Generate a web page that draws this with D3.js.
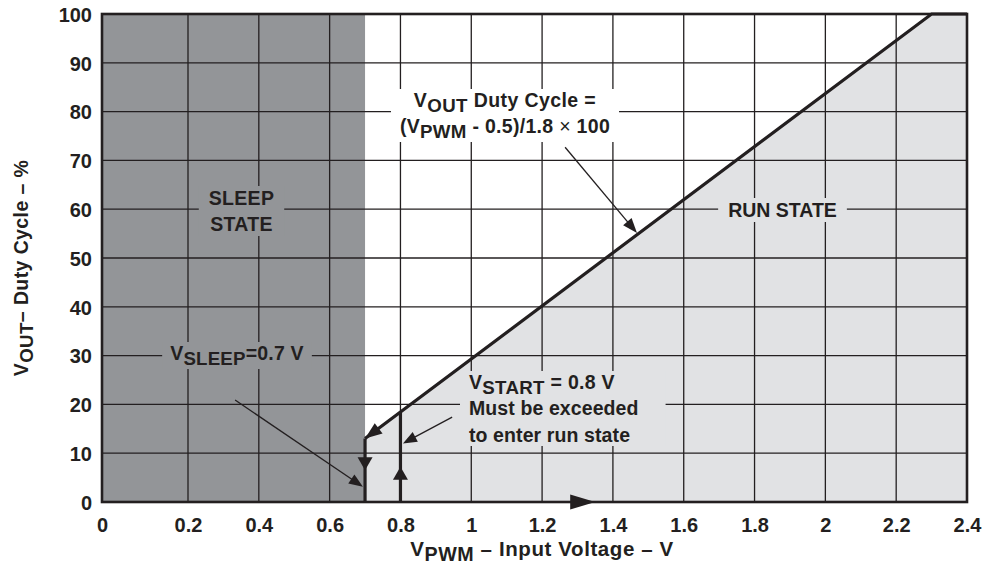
<!DOCTYPE html>
<html><head><meta charset="utf-8">
<script src="https://cdn.jsdelivr.net/npm/d3@7/dist/d3.min.js"></script>
<style>
body{margin:0;background:#fff}
svg{display:block;font-family:"Liberation Sans",Arial,Helvetica,sans-serif;font-weight:bold}
</style>
</head><body>
<svg id="c" width="984" height="566"></svg>
<script>
// ---------- data ----------
const xTicks = [0, 0.2, 0.4, 0.6, 0.8, 1, 1.2, 1.4, 1.6, 1.8, 2, 2.2, 2.4];
const xTickLabels = ["0", "0.2", "0.4", "0.6", "0.8", "1", "1.2", "1.4", "1.6", "1.8", "2", "2.2", "2.4"];
const yTicks = [0, 10, 20, 30, 40, 50, 60, 70, 80, 90, 100];
const yTickLabels = ["0", "10", "20", "30", "40", "50", "60", "70", "80", "90", "100"];
const vSleep = 0.7;
const vStart = 0.8;
const dutyCycle = [[0.7, 13], [2.3, 100], [2.4, 100]];   // [V_PWM, duty %]
const sleepDrop = [[0.7, 13], [0.7, 0]];
const startRise = [[0.8, 0], [0.8, 18.5]];

// ---------- setup ----------
const INK = "#231f20", DARK = "#939598", LIGHT = "#e1e2e4";
const FONT = '"Liberation Sans", Arial, Helvetica, sans-serif';
const svg = d3.select("#c");
const x = d3.scaleLinear().domain([0, 0.2, 2.4]).range([102, 188, 967]);
const y = d3.scaleLinear().domain([0, 100]).range([502, 14]);

const gRegion = svg.append("g");
const gGrid = svg.append("g").attr("stroke", INK).attr("stroke-width", 1.3);
const gBox = svg.append("g");
const gFrame = svg.append("g");
const gData = svg.append("g");
const gText = svg.append("g").attr("fill", INK);

// regions
gRegion.append("rect")
  .attr("x", x(0)).attr("y", y(100))
  .attr("width", x(vSleep) - x(0)).attr("height", y(0) - y(100))
  .attr("fill", DARK);
gRegion.append("path").datum(dutyCycle)
  .attr("d", d3.area().x(d => x(d[0])).y0(y(0)).y1(d => y(d[1])))
  .attr("fill", LIGHT);

// grid
xTicks.filter(d => d > 0 && d < 2.4).forEach(d => {
  gGrid.append("line").attr("x1", x(d)).attr("x2", x(d)).attr("y1", y(0)).attr("y2", y(100));
});
yTicks.filter(d => d > 0 && d < 100).forEach(d => {
  gGrid.append("line").attr("x1", x(0)).attr("x2", x(2.4)).attr("y1", y(d)).attr("y2", y(d));
});

// frame
gFrame.append("rect")
  .attr("x", x(0)).attr("y", y(100))
  .attr("width", x(2.4) - x(0)).attr("height", y(0) - y(100))
  .attr("fill", "none").attr("stroke", INK).attr("stroke-width", 2.6);

// axes
const gx = svg.append("g").attr("transform", `translate(0,${y(0)})`)
  .call(d3.axisBottom(x).tickValues(xTicks).tickFormat((d, i) => xTickLabels[i]).tickSize(0).tickPadding(0));
gx.select(".domain").remove();
gx.attr("font-family", FONT).attr("font-size", 20).attr("font-weight", "bold").attr("color", INK);
gx.selectAll("text").attr("dy", null).attr("y", 30);

const gy = svg.append("g").attr("transform", `translate(${x(0)},0)`)
  .call(d3.axisLeft(y).tickValues(yTicks).tickFormat((d, i) => yTickLabels[i]).tickSize(0).tickPadding(10));
gy.select(".domain").remove();
gy.attr("font-family", FONT).attr("font-size", 20).attr("font-weight", "bold").attr("color", INK);
gy.selectAll("text").attr("dy", "0.36em");

// data lines
const line = d3.line().x(d => x(d[0])).y(d => y(d[1]));
[dutyCycle, sleepDrop, startRise].forEach(s => {
  gData.append("path").datum(s).attr("d", line)
    .attr("fill", "none").attr("stroke", INK).attr("stroke-width", 3.2).attr("stroke-linejoin", "miter");
});

// arrow helpers
function head(tip, from, len, w) {
  const dx = tip[0] - from[0], dy = tip[1] - from[1];
  const L = Math.hypot(dx, dy), ux = dx / L, uy = dy / L;
  const bx = tip[0] - ux * len, by = tip[1] - uy * len;
  const px = -uy * w / 2, py = ux * w / 2;
  gData.append("polygon")
    .attr("points", [[tip[0], tip[1]], [bx + px, by + py], [bx - px, by - py]].map(p => p.join(",")).join(" "))
    .attr("fill", INK);
}
function pointer(fromV, tipV, len, w) {
  const a = [x(fromV[0]), y(fromV[1])], b = [x(tipV[0]), y(tipV[1])];
  const dx = b[0] - a[0], dy = b[1] - a[1], L = Math.hypot(dx, dy);
  gData.append("line").attr("x1", a[0]).attr("y1", a[1])
    .attr("x2", b[0] - dx / L * len * 0.8).attr("y2", b[1] - dy / L * len * 0.8)
    .attr("stroke", INK).attr("stroke-width", 1.3);
  head(b, a, len, w);
}

// arrowheads on the hysteresis path
head([x(dutyCycle[0][0]), y(dutyCycle[0][1])], [x(dutyCycle[1][0]), y(dutyCycle[1][1])], 17, 13);
head([x(vSleep), y(6.5)], [x(vSleep), y(20)], 13, 15);
head([x(vStart), y(7.2)], [x(vStart), y(0)], 13, 15);
head([x(1.35), y(0)], [x(1), y(0)], 25, 15);

// annotation pointers
pointer([1.265, 72.7], [1.468, 55.1], 15, 11);
pointer([0.333, 20.9], [0.694, 3.1], 14, 11);
pointer([0.946, 17.4], [0.807, 12.0], 14, 11);

// ---------- text ----------
function textLine(xp, yp, parts, anchor, size, ls) {
  const t = gText.append("text").attr("x", xp).attr("y", yp)
    .attr("text-anchor", anchor).attr("font-size", size);
  if (ls) t.attr("letter-spacing", ls);
  let shift = 0;
  parts.forEach(p => {
    const s = t.append("tspan").text(p.t);
    const target = p.sub ? 5 : 0;
    if (target !== shift) { s.attr("dy", target - shift); shift = target; }
    if (p.sub) s.attr("font-size", size * 0.96);
    if (p.normal) s.attr("font-weight", "normal");
  });
  return t;
}
function boxFor(texts, fill, padX, padY, extraR) {
  let x0 = Infinity, y0 = Infinity, x1 = -Infinity, y1 = -Infinity;
  texts.forEach(t => {
    const b = t.node().getBBox();
    x0 = Math.min(x0, b.x); y0 = Math.min(y0, b.y);
    x1 = Math.max(x1, b.x + b.width); y1 = Math.max(y1, b.y + b.height);
  });
  gBox.append("rect").attr("x", x0 - padX).attr("y", y0 - padY)
    .attr("width", x1 - x0 + 2 * padX + (extraR || 0)).attr("height", y1 - y0 + 2 * padY)
    .attr("fill", fill);
}

const S = 19.5;
// V_OUT formula
const f1 = textLine(505, 107, [{t: "V"}, {t: "OUT", sub: true}, {t: " Duty Cycle ="}], "middle", S, 0.4);
const f2 = textLine(505, 133, [{t: "(V"}, {t: "PWM", sub: true}, {t: " - 0.5)/1.8 "}, {t: "×", normal: true}, {t: " 100"}], "middle", S, 0.3);
boxFor([f1, f2], "#fff", 9, 0);

// sleep state
const s1 = textLine(241.5, 205, [{t: "SLEEP"}], "middle", S, 0.3);
const s2 = textLine(241.5, 231, [{t: "STATE"}], "middle", S, 0.3);
boxFor([s1, s2], DARK, 10, 1);

// V_SLEEP
const vs = textLine(237, 360, [{t: "V"}, {t: "SLEEP", sub: true}, {t: "=0.7 V"}], "middle", S, 0.2);
boxFor([vs], DARK, 8, 0);

// V_START
const st1 = textLine(469, 389, [{t: "V"}, {t: "START", sub: true}, {t: " = 0.8 V"}], "start", S, 0.3);
const st2 = textLine(469, 415, [{t: "Must be exceeded"}], "start", S, 0.1);
const st3 = textLine(469, 442, [{t: "to enter run state"}], "start", S, 0.1);
boxFor([st1, st2, st3], LIGHT, 9, 0, 18);

// run state
const r1 = textLine(782.5, 217, [{t: "RUN STATE"}], "middle", S, 0);
boxFor([r1], LIGHT, 10, 1);

// axis titles
textLine(542, 556, [{t: "V"}, {t: "PWM", sub: true}, {t: " – Input Voltage – V"}], "middle", 20.5, 0.6);
textLine(0, 0, [{t: "V"}, {t: "OUT", sub: true}, {t: "– Duty Cycle – %"}], "middle", 19.5, 0.4)
  .attr("transform", "translate(28,268) rotate(-90)");
</script>
</body></html>
